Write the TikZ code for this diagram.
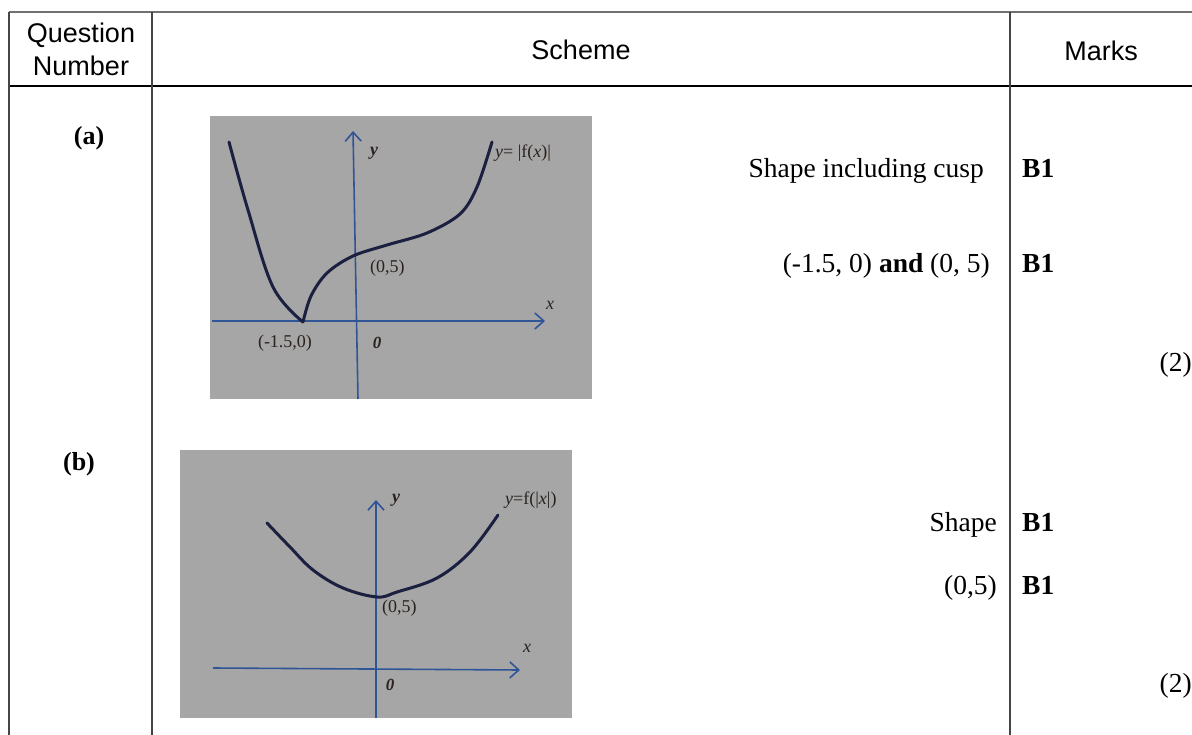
\documentclass[tikz,border=0pt]{standalone}
\usepackage{fontspec}
\setmainfont{Liberation Serif}
\newfontfamily\hdrfont{Liberation Sans}
\usetikzlibrary{arrows.meta}
\definecolor{gridln}{HTML}{454545}
\definecolor{topln}{HTML}{707070}
\definecolor{plotbg}{HTML}{A6A6A6}
\definecolor{axisblue}{HTML}{2F5597}
\definecolor{curvenavy}{HTML}{1B1F40}
\definecolor{lbl}{HTML}{2A221E}
\tikzset{
  hdr/.style={font=\hdrfont\fontsize{27}{32}\selectfont, inner sep=0pt, align=center},
  body/.style={font=\fontsize{27.5}{32}\selectfont, inner sep=0pt},
  qlabel/.style={font=\bfseries\fontsize{26}{30}\selectfont, inner sep=0pt},
  glabel/.style={font=\fontsize{18}{20}\selectfont, text=lbl, inner sep=0pt},
  gvar/.style={glabel, font=\bfseries\itshape\fontsize{18}{20}\selectfont},
  plotbox/.style={fill=plotbg, draw=none},
  axisline/.style={draw=axisblue, line width=1.6pt, -{Straight Barb[length=9pt,width=16pt,line width=1.6pt]}},
  curveline/.style={draw=curvenavy, line width=3pt, line cap=round, line join=round},
  rule/.style={draw=gridln, line width=2pt},
}
\begin{document}
\begin{tikzpicture}[x=1pt,y=-1pt]
\useasboundingbox (0,0) rectangle (1192,735);
\fill[white] (0,0) rectangle (1192,735);
% table
\draw[draw=topln, line width=2.5pt] (9,12) -- (1192,12);
\draw[draw=black, line width=1.6pt] (9,86) -- (1192,86);
\draw[rule] (9,12) -- (9,735);
\draw[rule] (152,12) -- (152,735);
\draw[rule] (1010,12) -- (1010,735);
% header
\node[hdr, anchor=base] (qn1) at (81,43) {Question};
\node[hdr, anchor=base] (qn2) at (81,76) {Number};
\node[hdr, anchor=base] (sch) at (581,60) {Scheme};
\node[hdr, anchor=base] (mks) at (1101,61) {Marks};
% question labels
\node[qlabel, anchor=base] (qa) at (89,145) {(a)};
\node[qlabel, anchor=base] (qb) at (79,470) {(b)};
% mark scheme text
\node[body, anchor=base east] (ta1) at (984,178) {Shape including cusp};
\node[body, anchor=base west] (ma1) at (1022,178) {\textbf{B1}};
\node[body, anchor=base east] (ta2) at (990,273) {(-1.5, 0) \textbf{and} (0, 5)};
\node[body, anchor=base west] (ma2) at (1022,273) {\textbf{B1}};
\node[body, anchor=base east] (ta3) at (1192,372) {(2)};
\node[body, anchor=base east] (tb1) at (997,531) {Shape};
\node[body, anchor=base west] (mb1) at (1022,531) {\textbf{B1}};
\node[body, anchor=base east] (tb2) at (997,594) {(0,5)};
\node[body, anchor=base west] (mb2) at (1022,594) {\textbf{B1}};
\node[body, anchor=base east] (tb3) at (1192,692) {(2)};
% graph (a)
\fill[plotbox] (210,116) rectangle (592,399);
\coordinate (ax0) at (212,321);
\coordinate (ax1) at (545,321);
\coordinate (ay0) at (358,399);
\coordinate (ay1) at (353,131);
\draw[axisline] (ax0) -- (ax1);
\draw[axisline] (ay0) -- (ay1);
\coordinate (cusp) at (303,322);
\draw[curveline] plot[smooth, tension=0.6] coordinates {(229,142) (248,210) (273,287) (303,322)};
\draw[curveline] plot[smooth, tension=0.55] coordinates {(303,322) (311,296) (327,273) (353,256) (387,245) (427,233) (460,214) (477,187) (492,142)};
\node[gvar] (ya) at (374,153) {y};
\node[glabel, anchor=west] (fa) at (495,153) {\textit{y}= |f(\textit{x})|};
\node[glabel, anchor=west] (pa) at (370,268) {(0,5)};
\node[glabel, font=\itshape\fontsize{18}{20}\selectfont] (xa) at (550,305) {x};
\node[glabel] (ca) at (285,343) {(-1.5,0)};
\node[gvar, font=\itshape\bfseries\fontsize{17}{20}\selectfont] (oa) at (377,343) {0};
% graph (b)
\fill[plotbox] (180,450) rectangle (572,718);
\coordinate (bx0) at (213,668);
\coordinate (bx1) at (520,670);
\coordinate (by0) at (376,718);
\coordinate (by1) at (376,500);
\draw[axisline] (bx0) -- (bx1);
\draw[axisline] (by0) -- (by1);
\draw[curveline] plot[smooth, tension=0.6] coordinates {(267,523) (290,547) (313,570) (343,588) (377,597) (397,592) (437,578) (470,552) (498,515)};
\node[gvar] (yb) at (396,500) {y};
\node[glabel, anchor=west] (fb) at (505,500) {\textit{y}=f(|\textit{x}|)};
\node[glabel, anchor=west] (pb) at (382,608) {(0,5)};
\node[glabel, font=\itshape\fontsize{18}{20}\selectfont] (xb) at (527,648) {x};
\node[gvar, font=\itshape\bfseries\fontsize{17}{20}\selectfont] (ob) at (390,685) {0};
\end{tikzpicture}
\end{document}
